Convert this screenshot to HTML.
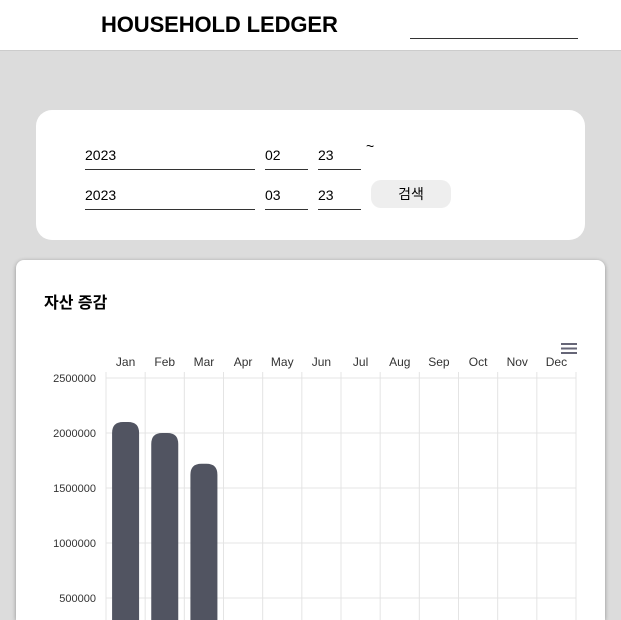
<!DOCTYPE html>
<html><head><meta charset="utf-8"><style>
body{margin:0;width:621px;height:620px;overflow:hidden;background:#dcdcdc;font-family:"Liberation Sans","Noto Sans CJK KR",sans-serif;position:relative}
.hdr{position:absolute;left:0;top:0;width:621px;height:50px;background:#fff;border-bottom:1px solid #ccc}
.title{position:absolute;left:101px;top:12px;font-size:22px;font-weight:bold;color:#000;letter-spacing:-0.1px}
.hline{position:absolute;left:410px;top:38px;width:168px;border-top:1px solid #333}
.form{position:absolute;left:36px;top:110px;width:549px;height:130px;background:#fff;border-radius:16px}
.inp{position:absolute;border-bottom:1px solid #333;font-size:14px;color:#000;height:26px;line-height:24px}
.btn{position:absolute;left:371px;top:180px;width:80px;height:28px;background:#eee;border-radius:10px;text-align:center;line-height:28px;font-size:14px}
.card{position:absolute;left:16px;top:260px;width:589px;height:360px;background:#fff;border-radius:8px 8px 0 0;box-shadow:0 1px 4px rgba(0,0,0,.35)}
.ct{position:absolute;left:44px;top:289px;font-size:16px;font-weight:bold}
</style></head><body>
<div class="hdr"></div>
<div class="title">HOUSEHOLD LEDGER</div>
<div class="hline"></div>
<div class="form"></div>
<div class="inp" style="left:85px;top:143px;width:170px">2023</div>
<div class="inp" style="left:265px;top:143px;width:43px">02</div>
<div class="inp" style="left:318px;top:143px;width:43px">23</div>
<div style="position:absolute;left:366px;top:138px;font-size:14px">~</div>
<div class="inp" style="left:85px;top:183px;width:170px">2023</div>
<div class="inp" style="left:265px;top:183px;width:43px">03</div>
<div class="inp" style="left:318px;top:183px;width:43px">23</div>
<div class="btn">검색</div>
<div class="card"></div>
<div class="ct">자산 증감</div>
<svg id="ch" width="621" height="620" style="position:absolute;left:0;top:0">
<g stroke="#667" stroke-width="2"><line x1="561" y1="344" x2="577" y2="344"/><line x1="561" y1="348.5" x2="577" y2="348.5"/><line x1="561" y1="353" x2="577" y2="353"/></g>
</svg>
<script>
const months=["Jan","Feb","Mar","Apr","May","Jun","Jul","Aug","Sep","Oct","Nov","Dec"];
const values=[2100000,2000000,1720000];
const ticks=[500000,1000000,1500000,2000000,2500000];
const svg=document.getElementById('ch'),NS="http://www.w3.org/2000/svg";
const x0=106,x1=576,yTop=378,yMax=2500000,y0=653;
const bw=(x1-x0)/12;
const y=v=>y0-(v/yMax)*(y0-yTop);
function mk(t,a,txt){const e=document.createElementNS(NS,t);for(const k in a)e.setAttribute(k,a[k]);if(txt!=null)e.textContent=txt;svg.appendChild(e);return e;}
ticks.forEach(t=>{
const l=mk('line',{x1:x0,x2:x1,y1:y(t),y2:y(t),stroke:'#e4e4e4'});


const tx=mk('text',{x:96,y:y(t)+4,'text-anchor':'end','font-size':11,fill:'#333','font-family':'Liberation Sans'},t);


});
for(let i=0;i<=12;i++){const l=mk('line',{x1:x0+i*bw,x2:x0+i*bw,y1:372,y2:620,stroke:'#e4e4e4'});

}
months.forEach((m,i)=>{const t=mk('text',{x:x0+(i+.5)*bw,y:366,'text-anchor':'middle','font-size':12,fill:'#333','font-family':'Liberation Sans'},m);

});
values.forEach((v,i)=>{const w=27,cx=x0+(i+.5)*bw,top=y(v),r0=11;
const r=mk('path',{d:`M${cx-w/2},700 V${top+r0} Q${cx-w/2},${top} ${cx-w/2+r0},${top} H${cx+w/2-r0} Q${cx+w/2},${top} ${cx+w/2},${top+r0} V700 Z`,fill:'#515461'});

});
</script>
</body></html>
